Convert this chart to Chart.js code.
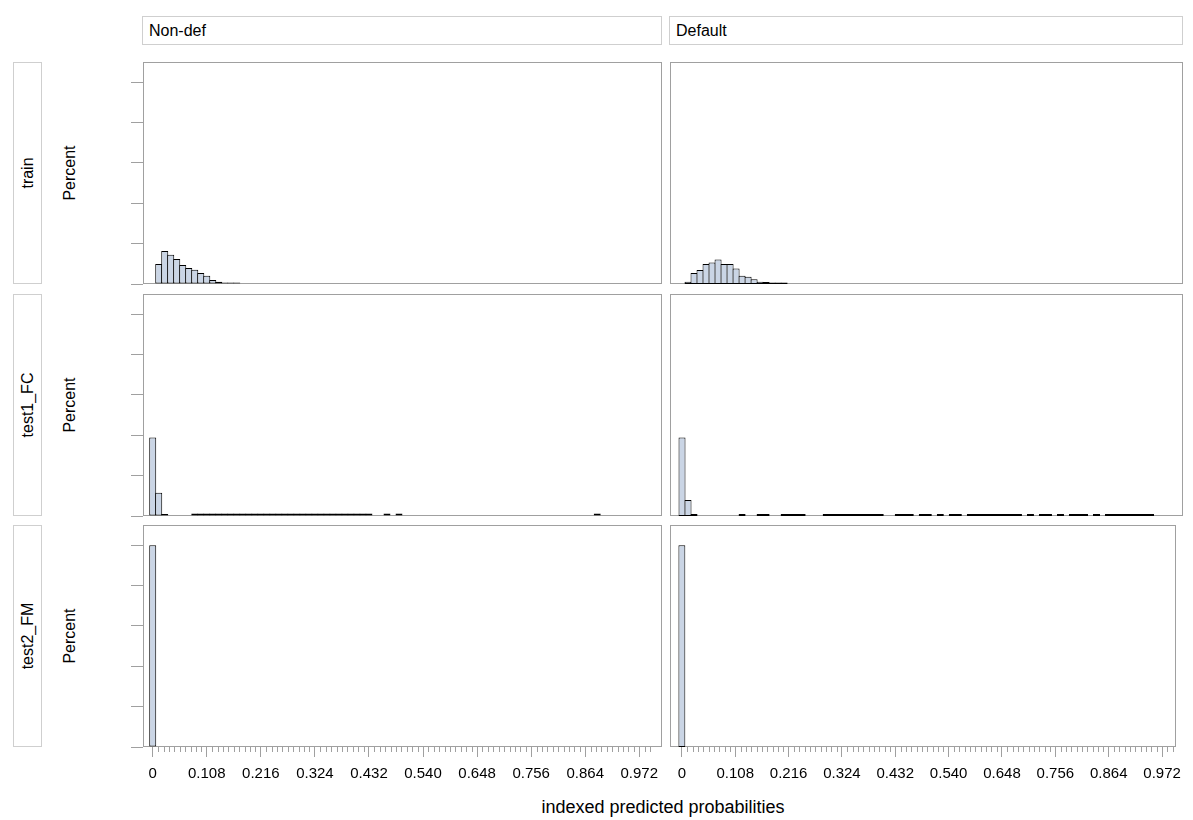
<!DOCTYPE html>
<html>
<head>
<meta charset="utf-8">
<title>indexed predicted probabilities</title>
<script src="https://cdn.jsdelivr.net/npm/chart.js@4.4.1/dist/chart.umd.min.js"></script>
<style>
  html, body { margin: 0; padding: 0; background: #fff; }
  #page { position: relative; width: 1193px; height: 820px; overflow: hidden; background: #fff;
          font-family: "Liberation Sans", Arial, sans-serif; color: #000; }
  .colhead { position: absolute; top: 16px; height: 29px; box-sizing: border-box; border: 1px solid #cfcfcf;
             font-size: 16px; line-height: 27px; padding-left: 6px; white-space: nowrap; }
  .rowhead { position: absolute; left: 13px; width: 29px; box-sizing: border-box; border: 1px solid #cfcfcf; }
  .ytitle { position: absolute; left: 55px; width: 30px; }
  .rot { position: absolute; left: 50%; top: 50%; transform: translate(-50%, -50%) rotate(-90deg);
         white-space: nowrap; font-size: 16px; }
  .xtitle { position: absolute; left: 143px; width: 1040px; top: 797px; text-align: center;
            font-size: 18px; white-space: nowrap; }
  canvas { position: absolute; }
</style>
</head>
<body>
<div id="page"></div>
<script>
// ---------------- data ----------------
const columnLabels = ['Non-def', 'Default'];
const rowLabels = ['train', 'test1_FC', 'test2_FM'];
const yAxisTitle = 'Percent';
const xAxisTitle = 'indexed predicted probabilities';

const binWidth = 0.012;   // bin k is centred on k * binWidth
const binCount = 84;

// percent of observations in each non-empty bin
const trainNonDefBins = [1, 2, 3, 4, 5, 6, 7, 8, 9, 10, 11, 12, 13, 14];
const trainNonDefPct  = [9.9, 16.3, 14.5, 12.4, 9.4, 7.9, 7.1, 5.4, 4.1, 2.0, 1.1, 0.8, 0.8, 0.8];

const trainDefaultBins = [1, 2, 3, 4, 5, 6, 7, 8, 9, 10, 11, 12, 13, 14, 15, 16, 17];
const trainDefaultPct  = [1.1, 5.4, 6.9, 9.9, 10.7, 12.2, 9.9, 9.9, 7.7, 4.1, 3.6, 2.3, 1.1, 1.0, 0.8, 0.8, 0.8];

const test1NonDefBins = [0, 1, 2, 7, 8, 9, 10, 11, 12, 13, 14, 15, 16, 17, 18, 19, 20, 21, 22, 23, 24, 25,
                         26, 27, 28, 29, 30, 31, 32, 33, 34, 35, 36, 39, 41, 74];
const test1NonDefPct  = [38.9, 11.5, 1.0, 1.2, 1.2, 1.2, 1.2, 1.2, 1.2, 1.2, 1.2, 1.2, 1.2, 1.2, 1.2, 1.2,
                         1.2, 1.2, 1.2, 1.2, 1.2, 1.2, 1.2, 1.2, 1.2, 1.2, 1.2, 1.2, 1.2, 1.2, 1.2, 1.2,
                         1.2, 1.2, 1.2, 1.2];

const test1DefaultBins = [0, 1, 2, 10, 13, 14, 17, 18, 19, 20, 24, 25, 26, 27, 28, 29, 30, 31, 32, 33, 36, 37,
                          38, 40, 41, 43, 45, 46, 48, 49, 50, 51, 52, 53, 54, 55, 56, 58, 60, 61, 63, 65, 66,
                          67, 69, 71, 72, 73, 74, 75, 76, 77, 78];
const test1DefaultPct  = [38.9, 7.9, 1.0, 1.0, 1.0, 1.0, 1.0, 1.0, 1.0, 1.0, 1.0, 1.0, 1.0, 1.0, 1.0, 1.0,
                          1.0, 1.0, 1.0, 1.0, 1.0, 1.0, 1.0, 1.0, 1.0, 1.0, 1.0, 1.0, 1.0, 1.0, 1.0, 1.0,
                          1.0, 1.0, 1.0, 1.0, 1.0, 1.0, 1.0, 1.0, 1.0, 1.0, 1.0, 1.0, 1.0, 1.0, 1.0, 1.0,
                          1.0, 1.0, 1.0, 1.0, 1.0];

const test2NonDefBins = [0];
const test2NonDefPct  = [100];
const test2DefaultBins = [0];
const test2DefaultPct  = [100];

const xTickValues = [0, 0.108, 0.216, 0.324, 0.432, 0.540, 0.648, 0.756, 0.864, 0.972];
const xTickLabels = ['0', '0.108', '0.216', '0.324', '0.432', '0.540', '0.648', '0.756', '0.864', '0.972'];
const xMinorStep = 0.0108;
const xMinorLast = 0.9936;
const yTickValues = [0, 20, 40, 60, 80, 100];
const yMax = 110;

// ---------------- layout & style ----------------
const FONT = '"Liberation Sans", Arial, sans-serif';
const FRAME = '#a0a0a0';
const TICK = '#a0a0a0';
const FILL = '#cad5e5';
const EDGE = '#000000';

const columns = [
  { left: 143, right: 662, xMin: -0.0194, xMax: 1.0174 },
  { left: 670, right: 1183, xMin: -0.0240, xMax: 1.0008 }
];
const rows = [ { top: 62 }, { top: 294 }, { top: 525 } ];
const plotH = 222;
const Y_AXIS_W = 12;
const X_AXIS_H = 44;
const PAD = 2;

const panels = [
  [ [trainNonDefBins, trainNonDefPct], [trainDefaultBins, trainDefaultPct] ],
  [ [test1NonDefBins, test1NonDefPct], [test1DefaultBins, test1DefaultPct] ],
  [ [test2NonDefBins, test2NonDefPct], [test2DefaultBins, test2DefaultPct] ]
];

const page = document.getElementById('page');

// column headers
columnLabels.forEach((lab, c) => {
  const d = document.createElement('div');
  d.className = 'colhead';
  d.style.left = (columns[c].left - 1) + 'px';
  d.style.width = (columns[c].right - columns[c].left + 1) + 'px';
  d.textContent = lab;
  page.appendChild(d);
});

// row headers and y-axis titles
rowLabels.forEach((lab, r) => {
  const box = document.createElement('div');
  box.className = 'rowhead';
  box.style.top = rows[r].top + 'px';
  box.style.height = plotH + 'px';
  const s = document.createElement('span');
  s.className = 'rot';
  s.textContent = lab;
  box.appendChild(s);
  page.appendChild(box);

  const yt = document.createElement('div');
  yt.className = 'ytitle';
  yt.style.top = rows[r].top + 'px';
  yt.style.height = plotH + 'px';
  const s2 = document.createElement('span');
  s2.className = 'rot';
  s2.textContent = yAxisTitle;
  yt.appendChild(s2);
  page.appendChild(yt);
});

// x-axis title
const xt = document.createElement('div');
xt.className = 'xtitle';
xt.textContent = xAxisTitle;
page.appendChild(xt);

// panel frame, drawn under the bars
const framePlugin = {
  id: 'panelFrame',
  beforeDatasetsDraw(chart) {
    const a = chart.chartArea, ctx = chart.ctx;
    ctx.save();
    ctx.strokeStyle = FRAME;
    ctx.lineWidth = 1;
    ctx.strokeRect(Math.round(a.left) + 0.5, Math.round(a.top) + 0.5,
                   Math.round(a.right - a.left) - 1, Math.round(a.bottom - a.top) - 1);
    ctx.restore();
  }
};

// short minor tick marks along the bottom axis
const minorTickPlugin = {
  id: 'minorTicks',
  afterDraw(chart) {
    const sx = chart.scales.x;
    if (!sx.options.display) return;
    const ctx = chart.ctx;
    ctx.save();
    ctx.strokeStyle = TICK;
    ctx.lineWidth = 1;
    ctx.beginPath();
    for (let k = 1; k * xMinorStep <= xMinorLast + 1e-9; k++) {
      if (k % 10 === 0) continue;
      const px = Math.round(sx.getPixelForValue(k * xMinorStep)) + 0.5;
      ctx.moveTo(px, sx.top);
      ctx.lineTo(px, sx.top + 5);
    }
    ctx.stroke();
    ctx.restore();
  }
};

function buildPoints(bins, pct) {
  const lookup = new Map(bins.map((b, i) => [b, pct[i]]));
  const pts = [];
  for (let k = 0; k < binCount; k++) {
    pts.push({ x: k * binWidth, y: lookup.has(k) ? lookup.get(k) : null });
  }
  return pts;
}

panels.forEach((rowPanels, r) => {
  rowPanels.forEach(([bins, pct], c) => {
    const col = columns[c];
    const isBottom = r === rows.length - 1;
    const leftW = Y_AXIS_W;
    const canvas = document.createElement('canvas');
    const w = leftW + (col.right - col.left) + 6;
    const h = PAD + plotH + (isBottom ? X_AXIS_H : PAD);
    canvas.width = w; canvas.height = h;
    canvas.style.width = w + 'px'; canvas.style.height = h + 'px';
    canvas.style.left = (col.left - leftW) + 'px';
    canvas.style.top = (rows[r].top - PAD) + 'px';
    page.appendChild(canvas);

    new Chart(canvas, {
      type: 'bar',
      data: {
        datasets: [{
          data: buildPoints(bins, pct),
          backgroundColor: FILL,
          borderColor: EDGE,
          borderWidth: 1,
          borderSkipped: false,
          categoryPercentage: 1,
          barPercentage: 7 / 6
        }]
      },
      plugins: [framePlugin, minorTickPlugin],
      options: {
        responsive: false,
        animation: false,
        devicePixelRatio: 1,
        layout: { padding: { left: c === 0 ? 0 : leftW, right: 6, top: PAD, bottom: isBottom ? 0 : PAD } },
        plugins: { legend: { display: false }, tooltip: { enabled: false } },
        scales: {
          x: {
            type: 'linear',
            min: col.xMin,
            max: col.xMax,
            offset: false,
            display: isBottom,
            grid: { display: true, drawOnChartArea: false, drawTicks: true, tickLength: 10,
                    tickColor: TICK, tickWidth: 1, offset: false },
            border: { display: false },
            ticks: {
              autoSkip: false, maxRotation: 0, minRotation: 0, padding: 8, color: '#000',
              font: { family: FONT, size: 15 },
              callback: (v, i) => xTickLabels[i]
            },
            afterBuildTicks: s => { s.ticks = xTickValues.map(v => ({ value: v })); },
            afterFit: s => { s.height = s.options.display ? X_AXIS_H : 0; }
          },
          y: {
            type: 'linear',
            min: 0,
            max: yMax,
            display: c === 0,
            grid: { display: true, drawOnChartArea: false, drawTicks: true, tickLength: Y_AXIS_W,
                    tickColor: TICK, tickWidth: 1 },
            border: { display: false },
            ticks: { display: false, includeBounds: false },
            afterBuildTicks: s => { s.ticks = yTickValues.map(v => ({ value: v })); },
            afterFit: s => { s.width = s.options.display ? Y_AXIS_W : 0; }
          }
        }
      }
    });
  });
});
</script>
</body>
</html>
